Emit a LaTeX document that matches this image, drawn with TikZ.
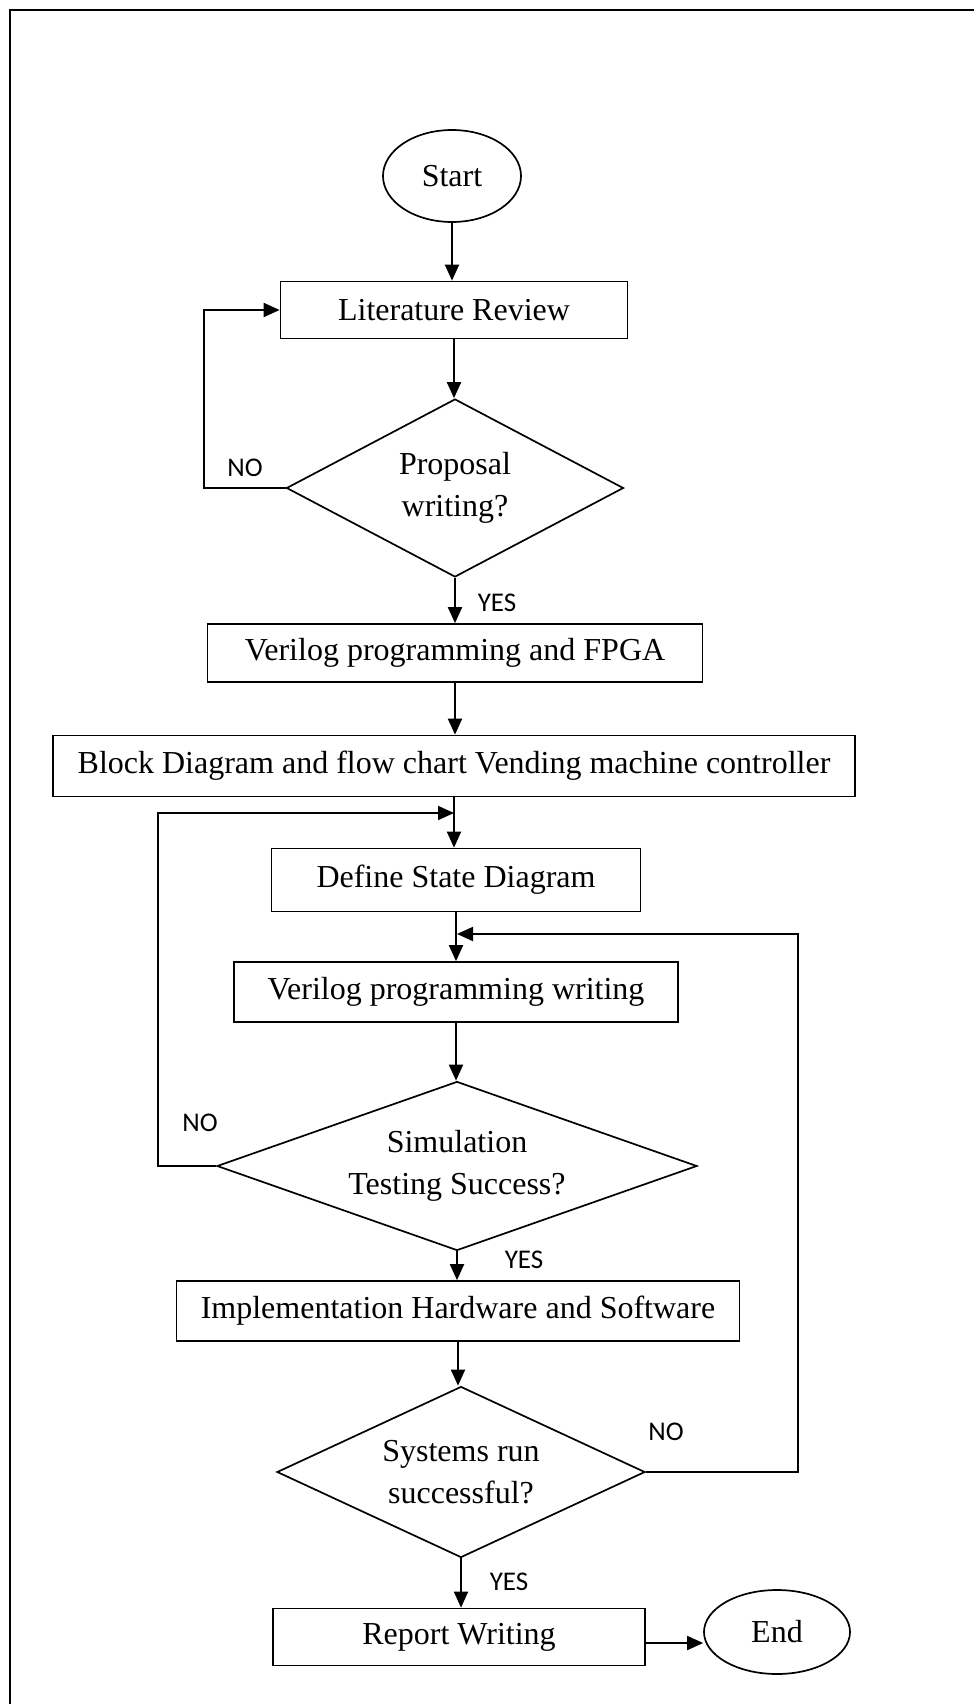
\documentclass[tikz,border=0pt]{standalone}
\usepackage{fontspec}
\setmainfont{Liberation Serif}
\newfontfamily\lblfont{Carlito}
\usetikzlibrary{arrows.meta,shapes.geometric}
\begin{document}
\begin{tikzpicture}[x=1pt,y=-1pt,
  every node/.style={font=\fontsize{32}{42}\selectfont},
  procbox/.style={draw,line width=1.7pt,rectangle,inner sep=0pt,align=center},
  term/.style={draw,line width=1.7pt,ellipse,inner sep=0pt,align=center},
  decide/.style={draw,line width=1.7pt,diamond,inner sep=0pt,align=center},
  arr/.style={line width=1.9pt,-{Triangle[length=16pt,width=14pt]}},
  lbl/.style={font=\lblfont\fontsize{27}{30}\selectfont,inner sep=0pt}]
\useasboundingbox (0,0) rectangle (974,1704);
\draw[line width=2pt] (10,1704) -- (10,10) -- (974,10);

\node[term,minimum width=138pt,minimum height=92pt] (start) at (452,176) {Start};
\node[procbox,minimum width=347pt,minimum height=57pt] (lit) at (454,310) {Literature Review};
\node[decide,minimum width=337pt,minimum height=178pt,aspect=1.89] (prop) at (455,488) {Proposal\\writing?};
\node[procbox,minimum width=495pt,minimum height=58pt] (fpga) at (455,653) {Verilog programming and FPGA};
\node[procbox,minimum width=802pt,minimum height=61pt] (block) at (454,766) {Block Diagram and flow chart Vending machine controller};
\node[procbox,minimum width=369pt,minimum height=63pt] (define) at (456,880) {Define State Diagram};
\node[procbox,minimum width=444pt,minimum height=60pt] (vwrite) at (456,992) {Verilog programming writing};
\node[decide,minimum width=480pt,minimum height=169pt,aspect=2.84] (sim) at (457,1166) {Simulation\\Testing Success?};
\node[procbox,minimum width=563pt,minimum height=60pt] (impl) at (458,1311) {Implementation Hardware and Software};
\node[decide,minimum width=368pt,minimum height=171pt,aspect=2.15] (sys) at (461,1472) {Systems run\\successful?};
\node[procbox,minimum width=372pt,minimum height=57pt] (report) at (459,1637) {Report Writing};
\node[term,minimum width=146pt,minimum height=84pt] (end) at (777,1632) {End};

\node[lbl] (no1) at (245,468) {NO};
\node[lbl] (yes1) at (497,603) {YES};
\node[lbl] (no2) at (200,1123) {NO};
\node[lbl] (yes2) at (524,1260) {YES};
\node[lbl] (no3) at (666,1432) {NO};
\node[lbl] (yes3) at (509,1582) {YES};

\coordinate (j1) at (454,813);
\coordinate (j2) at (457,934);

\draw[arr] (start.south) -- (start.south |- lit.north);
\draw[arr] (lit.south) -- (lit.south |- prop.north);
\draw[arr] (prop.west) -- ++(-82,0) |- (lit.west);
\draw[arr] (prop.south) -- (prop.south |- fpga.north);
\draw[arr] (fpga.south) -- (fpga.south |- block.north);
\draw[arr] (block.south) -- (block.south |- define.north);
\draw[arr] (sim.west) -- ++(-58,0) |- (j1);
\draw[arr] (define.south) -- (define.south |- vwrite.north);
\draw[arr] (sys.east) -- ++(152,0) |- (j2);
\draw[arr] (vwrite.south) -- (vwrite.south |- sim.north);
\draw[arr] (sim.south) -- (sim.south |- impl.north);
\draw[arr] (impl.south) -- (impl.south |- sys.north);
\draw[arr] (sys.south) -- (sys.south |- report.north);
\draw[arr] ([yshift=-6pt]report.east) -- ([yshift=-6pt]report.east -| end.west);
\end{tikzpicture}
\end{document}
